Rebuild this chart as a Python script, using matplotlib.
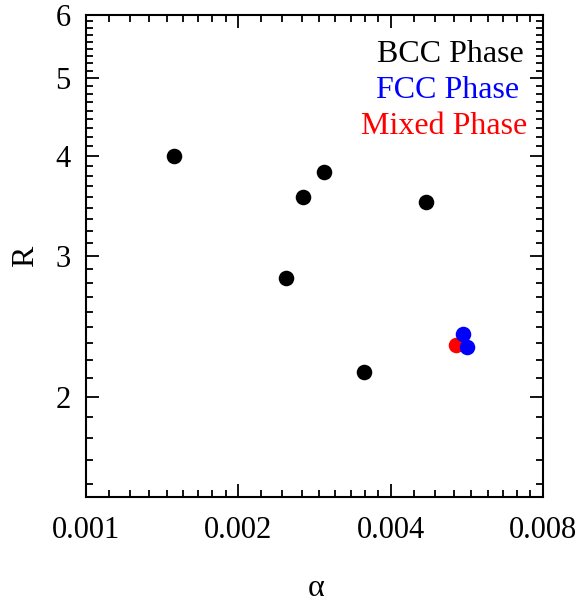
import matplotlib
matplotlib.use("Agg")
import matplotlib.pyplot as plt
from matplotlib.ticker import FixedLocator, FixedFormatter, NullFormatter

# ---- data ----
alpha_bcc = [0.00149, 0.00295, 0.00268, 0.00469, 0.00248, 0.00355]
R_bcc = [4.00, 3.82, 3.55, 3.50, 2.82, 2.15]
alpha_mixed = [0.00539]
R_mixed = [2.32]
alpha_fcc = [0.00556, 0.00565]
R_fcc = [2.40, 2.31]

x_ticks = [0.001, 0.002, 0.004, 0.008]
x_tick_labels = ["0.001", "0.002", "0.004", "0.008"]
y_ticks = [2, 3, 4, 5, 6]
y_tick_labels = ["2", "3", "4", "5", "6"]
legend_labels = ["BCC Phase", "FCC Phase", "Mixed Phase"]
legend_colors = ["black", "#0000ff", "#ff0000"]

plt.rcParams["font.family"] = ["Liberation Serif", "DejaVu Serif"]

fig = plt.figure(figsize=(5.83, 6.04), dpi=100)
ax = fig.add_axes([86 / 583, 1 - 497 / 604, 457 / 583, 482 / 604])

ms = 11.2
ax.plot(alpha_bcc, R_bcc, "o", color="black", ms=ms, mec="none")
ax.plot(alpha_mixed, R_mixed, "o", color="#ff0000", ms=ms, mec="none")
ax.plot(alpha_fcc, R_fcc, "o", color="#0000ff", ms=ms, mec="none")

ax.set_xscale("log")
ax.set_yscale("log")
ax.set_xlim(0.001, 0.008)
ax.set_ylim(1.5, 6)

ax.xaxis.set_major_locator(FixedLocator(x_ticks))
ax.xaxis.set_major_formatter(FixedFormatter(x_tick_labels))
xminor = [m * (1 + k / 9) for m in x_ticks[:-1] for k in range(1, 9)]
ax.xaxis.set_minor_locator(FixedLocator(xminor))
ax.xaxis.set_minor_formatter(NullFormatter())

ax.yaxis.set_major_locator(FixedLocator(y_ticks))
ax.yaxis.set_major_formatter(FixedFormatter(y_tick_labels))
yminor = [1 + k / 9 for k in range(5, 9)] + [m + k / 9 for m in y_ticks[:-1] for k in range(1, 9)]
ax.yaxis.set_minor_locator(FixedLocator(yminor))
ax.yaxis.set_minor_formatter(NullFormatter())

for s in ax.spines.values():
    s.set_linewidth(1.5)

ax.tick_params(which="both", direction="in", top=True, right=True, width=1.3, labelsize=22)
ax.tick_params(which="major", length=9.4)
ax.tick_params(which="minor", length=4.8)
ax.tick_params(axis="x", which="major", pad=14)
ax.tick_params(axis="y", which="major", pad=11)

ax.set_xlabel("α", fontsize=23)
ax.xaxis.label.set_va("center")
ax.xaxis.set_label_coords((316 - 86) / 457, (497 - 589) / 482)
ax.set_ylabel("R", fontsize=23)
ax.yaxis.label.set_va("center")
ax.yaxis.set_label_coords((26 - 86) / 457, (497 - 256) / 482)

legend_x = [524, 519.5, 527]
legend_base = [62.3, 98.3, 134]
for lab, col, lx, ly in zip(legend_labels, legend_colors, legend_x, legend_base):
    ax.text((lx - 86) / 457, (497 - ly) / 482, lab, color=col, fontsize=23,
            ha="right", va="baseline", transform=ax.transAxes)

fig.savefig("out.png", dpi=100)
